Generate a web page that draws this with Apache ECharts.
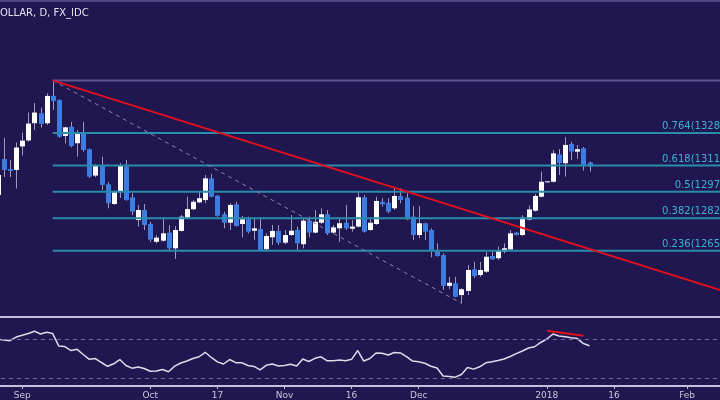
<!DOCTYPE html>
<html><head><meta charset="utf-8">
<script src="https://cdn.jsdelivr.net/npm/echarts@6/dist/echarts.min.js"></script>
<style>html,body{margin:0;padding:0;background:#201650;}#c{width:720px;height:400px;}</style>
</head><body><div id="c"></div>
<script>
// ---- data ----
const titleText = 'OLLAR, D, FX_IDC';
const startDate = [2017, 7, 29];   // first full session on the axis (Aug 29 2017)
const nCategories = 119;            // weekday sessions on the axis
const firstDataIndex = -1;          // first candle (Aug 28) sits one slot left of the axis start
const tickLabels = {
  '2017-09-01': 'Sep', '2017-10-02': 'Oct', '2017-10-17': '17', '2017-11-01': 'Nov',
  '2017-11-16': '16', '2017-12-01': 'Dec', '2018-01-01': '2018', '2018-01-16': '16', '2018-02-01': 'Feb'
};
const open = [1295.3,1314.6,1309.2,1308.7,1321.3,1324.5,1333.7,1339.0,1333.7,1348.3,
  1346.1,1326.9,1331.8,1323.0,1329.0,1319.8,1305.7,1310.8,1301.0,1290.5,
  1297.1,1310.5,1294.0,1281.9,1287.3,1279.8,1270.3,1270.9,1275.2,1266.8,
  1276.1,1283.2,1287.7,1291.4,1292.6,1304.2,1294.9,1285.0,1280.5,1290.3,
  1279.8,1282.3,1276.2,1277.1,1266.3,1272.7,1276.1,1269.8,1273.9,1276.6,
  1269.0,1281.6,1275.2,1280.5,1285.0,1275.2,1277.5,1280.5,1277.3,1278.4,
  1294.1,1276.6,1279.8,1291.7,1291.2,1288.2,1294.8,1293.9,1283.7,1273.9,
  1280.2,1276.6,1265.9,1263.2,1246.7,1248.1,1241.8,1244.0,1255.6,1252.5,
  1254.3,1262.7,1261.5,1265.0,1266.2,1275.2,1273.9,1282.2,1286.9,1294.4,
  1302.4,1302.4,1317.0,1312.3,1322.6,1318.5,1320.3,1312.7];
const close = [1306.0,1308.7,1308.2,1320.7,1324.4,1333.5,1339.4,1333.3,1348.3,1345.6,
  1326.5,1331.5,1321.5,1329.0,1319.4,1305.1,1310.8,1300.7,1290.9,1297.1,
  1310.8,1292.6,1286.4,1287.3,1279.3,1271.5,1272.5,1274.8,1266.8,1276.6,
  1283.7,1287.8,1291.7,1293.6,1304.2,1294.4,1284.2,1280.5,1290.0,1278.7,
  1282.3,1275.7,1277.5,1265.9,1273.4,1276.1,1269.8,1273.9,1276.2,1269.5,
  1281.6,1275.2,1281.0,1285.0,1274.8,1278.0,1280.2,1277.5,1278.4,1294.1,
  1275.7,1280.5,1292.1,1290.3,1286.4,1294.8,1292.6,1282.3,1273.9,1280.2,
  1275.7,1265.9,1262.7,1246.7,1248.4,1240.9,1244.9,1255.2,1252.0,1255.2,
  1262.3,1260.9,1265.9,1266.8,1274.8,1273.9,1283.3,1287.6,1294.8,1302.4,
  1302.6,1317.6,1312.4,1322.1,1318.5,1319.8,1311.4,1310.6];
const low = [1291.0,1304.9,1304.9,1298.8,1316.4,1323.8,1330.1,1331.4,1332.8,1340.8,
  1325.8,1322.9,1320.8,1315.8,1318.5,1304.4,1304.9,1298.0,1288.2,1290.0,
  1293.7,1292.3,1284.6,1278.4,1276.6,1270.2,1269.5,1270.3,1265.9,1261.1,
  1275.7,1282.9,1287.3,1290.9,1290.9,1294.1,1283.7,1277.5,1276.6,1278.4,
  1272.7,1274.8,1271.3,1265.4,1265.0,1268.6,1268.6,1269.1,1273.4,1265.9,
  1266.8,1272.7,1274.8,1279.8,1273.9,1274.8,1270.3,1276.6,1275.7,1278.0,
  1275.2,1276.2,1279.3,1289.1,1285.5,1287.3,1290.9,1281.9,1271.3,1272.2,
  1271.3,1262.0,1262.3,1244.5,1244.9,1240.6,1237.4,1241.8,1250.9,1251.5,
  1253.6,1260.6,1260.6,1264.1,1265.5,1273.7,1273.4,1281.7,1286.4,1294.0,
  1302.2,1302.0,1306.0,1305.1,1314.0,1314.6,1308.4,1307.8];
const high = [1308.7,1325.8,1314.0,1323.4,1328.7,1339.4,1344.5,1342.0,1349.7,1356.6,
  1346.5,1331.8,1334.5,1330.1,1334.4,1320.2,1311.9,1315.8,1302.3,1297.7,
  1312.3,1314.0,1296.2,1290.0,1290.5,1280.9,1273.9,1282.9,1279.3,1278.7,
  1284.6,1294.4,1292.6,1297.1,1306.0,1306.5,1295.3,1286.4,1290.9,1291.7,
  1284.2,1283.7,1282.9,1282.9,1274.8,1279.3,1279.3,1276.6,1284.6,1278.4,
  1282.9,1283.7,1287.3,1288.2,1287.3,1279.3,1282.9,1290.0,1281.9,1297.1,
  1295.3,1282.9,1294.4,1293.6,1293.6,1299.4,1298.9,1296.2,1289.4,1289.4,
  1280.5,1277.5,1269.5,1264.1,1251.6,1251.6,1245.4,1257.9,1259.6,1259.5,
  1264.8,1265.0,1267.7,1269.5,1276.6,1275.5,1284.4,1289.7,1295.9,1307.8,
  1302.8,1319.4,1319.9,1326.2,1323.8,1322.1,1321.0,1313.1];
const rsi = [69.7,69.0,68.3,72.0,73.7,75.5,77.9,75.0,76.8,75.5,
  62.9,62.4,58.4,59.6,54.4,49.5,50.3,46.3,42.5,45.0,
  49.3,43.3,40.6,41.8,40.3,37.5,37.7,39.3,37.0,42.6,
  45.8,47.8,50.4,52.1,56.6,51.4,46.9,44.8,49.3,46.1,
  46.1,43.3,42.3,38.8,43.5,44.8,42.8,43.3,44.6,42.8,
  49.9,47.3,50.5,52.1,48.0,48.1,48.8,48.0,49.5,58.4,
  47.8,50.3,55.9,55.7,53.9,56.4,56.0,52.3,47.7,47.0,
  45.5,42.5,40.8,32.7,32.1,31.5,34.2,41.2,39.6,42.0,
  46.0,47.0,48.3,49.8,52.4,55.2,57.9,60.9,62.2,66.5,
  70.0,75.0,73.0,72.3,71.2,70.4,65.4,63.2];
const fibPrices = [1265.5, 1282.9, 1297.0, 1311.1, 1328.5];
const fibLabels = ['0.236(1265', '0.382(1282', '0.5(1297', '0.618(1311', '0.764(1328'];
const fibHigh = [8, 1356.6];     // swing high (axis index, price)
const fibLow = [75, 1237.4];     // swing low
const fibEndIndex = 118;
const trendLine = [[8, 1356.6], [118, 1243.9]];
const rsiDivergence = [[89, 78.4], [95, 73.3]];
const rsiLevels = [70, 30];

// ---- build ----
const categories = [];
{
  let t = Date.UTC(startDate[0], startDate[1], startDate[2]);
  while (categories.length < nCategories) {
    const d = new Date(t);
    const wd = d.getUTCDay();
    if (wd !== 0 && wd !== 6) categories.push(d.toISOString().slice(0, 10));
    t += 86400000;
  }
}
const candleData = open.map((o, i) => [i + firstDataIndex, o, close[i], low[i], high[i]]);
const rsiData = rsi.map((v, i) => [i + firstDataIndex, v]);
const isTick = (idx, val) => Object.prototype.hasOwnProperty.call(tickLabels, val);

const C = {
  bg: '#201650', up: '#ffffff', down: '#3b7de2', wick: '#9d99b8',
  fib: '#2a8cab', fibText: '#3ab4d4', top: '#5e5592', red: '#e3101c',
  diag: '#8a84ac', rsi: '#dcdce8', rsiLevel: '#6f69a0', frame: '#c4c0dc', axisText: '#c8c6da'
};

function renderCandle(params, api) {
  const i = api.value(0), o = api.value(1), c = api.value(2), l = api.value(3), h = api.value(4);
  const pO = api.coord([i, o]), pC = api.coord([i, c]), pL = api.coord([i, l]), pH = api.coord([i, h]);
  const cx = Math.round(pO[0]);
  const top = Math.min(pO[1], pC[1]);
  const hgt = Math.max(Math.abs(pO[1] - pC[1]), 1);
  return {
    type: 'group',
    children: [
      {type: 'line', shape: {x1: cx + 0.5, y1: pH[1], x2: cx + 0.5, y2: pL[1]}, style: {stroke: C.wick, lineWidth: 1}},
      {type: 'rect', shape: {x: cx - 2, y: top, width: 5, height: hgt}, style: {fill: c >= o ? C.up : C.down}}
    ]
  };
}

function seg(data, color, width, type, z) {
  return {type: 'line', xAxisIndex: 0, yAxisIndex: 0, data: data, symbol: 'none', silent: true, clip: false,
    lineStyle: {color: color, width: width, type: type || 'solid'}, z: z || 3};
}

const series = [
  {type: 'custom', xAxisIndex: 0, yAxisIndex: 0, renderItem: renderCandle, data: candleData,
   encode: {x: 0, y: [1, 2, 3, 4]}, z: 2, silent: true, clip: false}
];
fibPrices.forEach(p => series.push(seg([[fibHigh[0], p], [fibEndIndex, p]], C.fib, 2)));
series.push(seg([[fibHigh[0], fibHigh[1]], [fibEndIndex, fibHigh[1]]], C.top, 2));
series.push(seg([fibHigh, fibLow], C.diag, 1, [4, 4]));
series.push(seg(trendLine, C.red, 2, 'solid', 4));
series.push({type: 'line', xAxisIndex: 1, yAxisIndex: 1, data: rsiData, symbol: 'none', silent: true, clip: false,
  lineStyle: {color: C.rsi, width: 1.5},
  markLine: {silent: true, symbol: 'none', label: {show: false},
    lineStyle: {color: C.rsiLevel, width: 1, type: [4, 4]},
    data: rsiLevels.map(v => ({yAxis: v}))}});
series.push({type: 'line', xAxisIndex: 1, yAxisIndex: 1, data: rsiDivergence, symbol: 'none', silent: true,
  lineStyle: {color: C.red, width: 2}, z: 4});

const chart = echarts.init(document.getElementById('c'), null, {renderer: 'canvas'});
const gridLeft = 0.85, gridWidth = 725.9;
chart.setOption({
  backgroundColor: C.bg,
  animation: false,
  grid: [
    {left: gridLeft, width: gridWidth, top: 0, height: 316, outerBoundsMode: 'none', containLabel: false},
    {left: gridLeft, width: gridWidth, top: 317, height: 69, outerBoundsMode: 'none', containLabel: false}
  ],
  xAxis: [
    {type: 'category', gridIndex: 0, data: categories, boundaryGap: true, show: false},
    {type: 'category', gridIndex: 1, data: categories, boundaryGap: true,
     axisLine: {show: true, lineStyle: {color: C.frame, width: 2}},
     axisTick: {show: true, alignWithLabel: true, interval: isTick, length: 3, lineStyle: {color: C.frame}},
     axisLabel: {interval: isTick, formatter: v => tickLabels[v] || '', color: C.axisText,
       fontSize: 9, fontFamily: 'DejaVu Sans', margin: 5},
     splitLine: {show: false}}
  ],
  yAxis: [
    {type: 'value', gridIndex: 0, min: 1230.6, max: 1399.6, show: false, splitLine: {show: false}},
    {type: 'value', gridIndex: 1, min: 22.6, max: 92.2, show: false, splitLine: {show: false}}
  ],
  series: series
});

const gfx = [
  {type: 'line', shape: {x1: 0, y1: 1, x2: 720, y2: 1}, style: {stroke: '#4d4680', lineWidth: 2}, silent: true},
  {type: 'line', shape: {x1: 0, y1: 317, x2: 720, y2: 317}, style: {stroke: C.frame, lineWidth: 2}, silent: true},
  {type: 'line', shape: {x1: 0, y1: 386, x2: 720, y2: 386}, style: {stroke: C.frame, lineWidth: 2}, silent: true},
  {type: 'text', x: 0, y: 8, silent: true,
   style: {text: titleText, fill: '#e4e4ee', font: '10px "DejaVu Sans"', verticalAlign: 'top'}}
];
fibPrices.forEach((p, j) => {
  const y = chart.convertToPixel({gridIndex: 0}, [0, p])[1];
  gfx.push({type: 'text', x: 720, y: y - 1.5, silent: true, z: 10,
    style: {text: fibLabels[j], fill: C.fibText, font: '10px "DejaVu Sans"', align: 'right', verticalAlign: 'bottom'}});
});
chart.setOption({graphic: gfx});
</script>
</body></html>
